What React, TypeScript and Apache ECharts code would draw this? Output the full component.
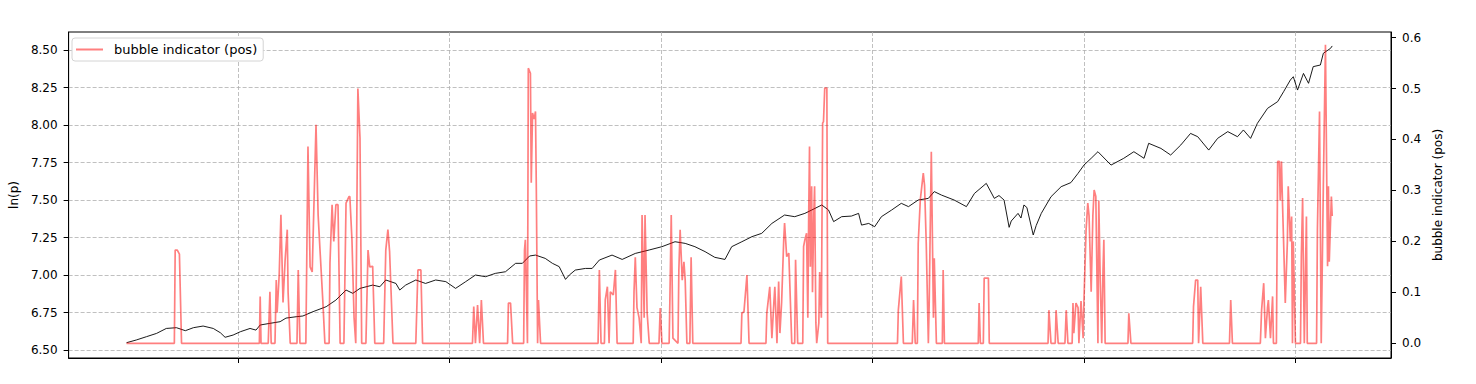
import React, { useEffect, useRef } from "react";
import * as echarts from "echarts";

// ln(price): [year, ln(p)]
const priceSeries: [number, number][] = [
  [1992.36, 6.549], [1992.59, 6.567], [1992.83, 6.589], [1993.07, 6.611], [1993.3, 6.644],
  [1993.54, 6.649], [1993.75, 6.629], [1993.94, 6.649], [1994.17, 6.66], [1994.41, 6.644],
  [1994.58, 6.615], [1994.69, 6.585], [1994.88, 6.6], [1995.05, 6.622], [1995.28, 6.644],
  [1995.42, 6.633], [1995.52, 6.667], [1995.75, 6.678], [1995.99, 6.689], [1996.13, 6.713],
  [1996.37, 6.722], [1996.53, 6.727], [1996.77, 6.756], [1997.08, 6.789], [1997.31, 6.833],
  [1997.55, 6.9], [1997.71, 6.878], [1997.88, 6.911], [1998.18, 6.933], [1998.35, 6.922],
  [1998.49, 6.967], [1998.73, 6.944], [1998.82, 6.9], [1998.96, 6.933], [1999.2, 6.967],
  [1999.43, 6.944], [1999.67, 6.967], [1999.91, 6.956], [2000.14, 6.911], [2000.38, 6.956],
  [2000.61, 7.0], [2000.85, 6.989], [2001.08, 7.011], [2001.32, 7.022], [2001.56, 7.078],
  [2001.72, 7.078], [2001.89, 7.127], [2002.03, 7.133], [2002.26, 7.111], [2002.43, 7.078],
  [2002.59, 7.056], [2002.74, 6.971], [2002.83, 7.0], [2002.97, 7.033], [2003.21, 7.044],
  [2003.37, 7.044], [2003.54, 7.1], [2003.84, 7.133], [2004.08, 7.104], [2004.39, 7.144],
  [2004.72, 7.167], [2005.02, 7.189], [2005.33, 7.222], [2005.57, 7.211], [2005.8, 7.189],
  [2006.04, 7.156], [2006.27, 7.118], [2006.51, 7.104], [2006.67, 7.189], [2006.91, 7.222],
  [2007.15, 7.256], [2007.38, 7.278], [2007.62, 7.344], [2007.92, 7.4], [2008.16, 7.389],
  [2008.4, 7.411], [2008.56, 7.433], [2008.8, 7.467], [2008.96, 7.433], [2009.08, 7.356],
  [2009.27, 7.389], [2009.5, 7.393], [2009.67, 7.411], [2009.74, 7.333], [2009.91, 7.344],
  [2010.05, 7.322], [2010.21, 7.389], [2010.45, 7.433], [2010.68, 7.478], [2010.85, 7.456],
  [2011.08, 7.5], [2011.32, 7.511], [2011.46, 7.556], [2011.63, 7.533], [2011.93, 7.5],
  [2012.22, 7.456], [2012.41, 7.544], [2012.69, 7.611], [2012.88, 7.511], [2012.99, 7.53],
  [2013.11, 7.5], [2013.23, 7.318], [2013.28, 7.36], [2013.44, 7.411], [2013.51, 7.38],
  [2013.58, 7.467], [2013.65, 7.45], [2013.8, 7.267], [2013.87, 7.33], [2013.99, 7.411],
  [2014.22, 7.522], [2014.46, 7.589], [2014.69, 7.616], [2014.86, 7.678], [2015.0, 7.733],
  [2015.17, 7.778], [2015.33, 7.822], [2015.64, 7.733], [2015.94, 7.778], [2016.18, 7.822],
  [2016.42, 7.778], [2016.53, 7.878], [2016.82, 7.844], [2017.05, 7.8], [2017.29, 7.867],
  [2017.52, 7.944], [2017.69, 7.922], [2017.95, 7.833], [2018.16, 7.911], [2018.4, 7.956],
  [2018.63, 7.922], [2018.77, 7.967], [2018.94, 7.911], [2019.1, 8.011], [2019.34, 8.111],
  [2019.58, 8.156], [2019.72, 8.222], [2019.88, 8.3], [2019.95, 8.322], [2020.05, 8.233],
  [2020.19, 8.344], [2020.31, 8.278], [2020.42, 8.389], [2020.59, 8.4], [2020.66, 8.478],
  [2020.83, 8.511], [2020.87, 8.527],
];

// bubble indicator (pos): [year, value]
const bubbleSeries: [number, number][] = [
  [1992.36, 0],
  [1993.49, 0], [1993.51, 0.183], [1993.56, 0.183], [1993.61, 0.175], [1993.66, 0],
  [1995.5, 0], [1995.52, 0.092], [1995.54, 0],
  [1995.71, 0], [1995.75, 0.101], [1995.78, 0],
  [1995.87, 0], [1995.9, 0.124], [1995.92, 0.06], [1995.97, 0.135], [1996.01, 0.252], [1996.06, 0.08],
  [1996.11, 0.164], [1996.16, 0.223], [1996.18, 0.1], [1996.23, 0],
  [1996.39, 0], [1996.42, 0.144], [1996.46, 0],
  [1996.6, 0], [1996.65, 0.386], [1996.7, 0.15], [1996.75, 0.14], [1996.84, 0.429], [1996.89, 0.252],
  [1996.93, 0.19], [1997.0, 0.085], [1997.05, 0],
  [1997.15, 0], [1997.17, 0.157], [1997.22, 0.272], [1997.26, 0.2], [1997.31, 0.272], [1997.36, 0.272], [1997.41, 0],
  [1997.5, 0], [1997.55, 0.275], [1997.62, 0.288], [1997.64, 0.288], [1997.69, 0.203], [1997.74, 0.05], [1997.78, 0],
  [1997.83, 0.5], [1997.88, 0.403], [1997.92, 0],
  [1998.02, 0], [1998.07, 0.183], [1998.11, 0.15], [1998.18, 0.151], [1998.23, 0],
  [1998.44, 0], [1998.49, 0.183], [1998.54, 0.223], [1998.58, 0.18], [1998.66, 0],
  [1999.2, 0], [1999.25, 0.144], [1999.32, 0.144], [1999.36, 0],
  [2000.54, 0], [2000.57, 0.072], [2000.61, 0], [2000.66, 0.075], [2000.71, 0], [2000.75, 0.085], [2000.8, 0],
  [2001.37, 0], [2001.39, 0.079], [2001.44, 0.079], [2001.49, 0],
  [2001.75, 0], [2001.77, 0.183], [2001.79, 0.203], [2001.84, 0], [2001.86, 0.54], [2001.91, 0.53],
  [2001.93, 0.315], [2001.96, 0.452], [2002.0, 0.44], [2002.03, 0.455], [2002.05, 0.3], [2002.08, 0],
  [2002.1, 0.085], [2002.15, 0],
  [2003.51, 0], [2003.54, 0.144], [2003.58, 0],
  [2003.66, 0], [2003.68, 0.085], [2003.73, 0.111], [2003.77, 0], [2003.8, 0.101], [2003.87, 0.095],
  [2003.92, 0.144], [2003.96, 0],
  [2004.34, 0], [2004.36, 0.101], [2004.39, 0.169], [2004.43, 0.07], [2004.48, 0.05], [2004.53, 0],
  [2004.55, 0.252], [2004.6, 0.05], [2004.62, 0.252], [2004.67, 0.06], [2004.72, 0],
  [2004.95, 0], [2004.98, 0.069], [2005.02, 0],
  [2005.19, 0], [2005.21, 0.095], [2005.24, 0.252], [2005.28, 0.01], [2005.4, 0], [2005.42, 0.144],
  [2005.45, 0.223], [2005.5, 0.124], [2005.54, 0.16], [2005.57, 0.124], [2005.61, 0],
  [2005.68, 0], [2005.71, 0.169], [2005.75, 0],
  [2006.89, 0], [2006.91, 0.059], [2006.96, 0.062], [2007.03, 0.134], [2007.08, 0],
  [2007.48, 0], [2007.5, 0.059], [2007.57, 0.111], [2007.62, 0.01], [2007.67, 0.085], [2007.69, 0.111],
  [2007.74, 0], [2007.78, 0.121], [2007.81, 0.02], [2007.85, 0.08], [2007.9, 0.203], [2007.92, 0.236],
  [2007.97, 0.17], [2008.02, 0.177], [2008.09, 0],
  [2008.16, 0], [2008.18, 0.164], [2008.23, 0],
  [2008.35, 0], [2008.37, 0.19], [2008.4, 0.203], [2008.44, 0.216], [2008.47, 0.05], [2008.49, 0.25],
  [2008.51, 0.386], [2008.53, 0.15], [2008.56, 0.308], [2008.58, 0.1], [2008.61, 0.25], [2008.63, 0.308],
  [2008.66, 0.04], [2008.68, 0], [2008.73, 0.04], [2008.75, 0.14], [2008.79, 0.05], [2008.82, 0.432],
  [2008.84, 0.435], [2008.87, 0.501], [2008.92, 0.501], [2008.94, 0],
  [2010.59, 0], [2010.61, 0.065], [2010.68, 0.131], [2010.73, 0],
  [2010.94, 0], [2010.97, 0.085], [2011.01, 0],
  [2011.06, 0], [2011.08, 0.196], [2011.13, 0.282], [2011.2, 0.334], [2011.23, 0.31], [2011.27, 0.196],
  [2011.32, 0], [2011.34, 0.08], [2011.39, 0.376], [2011.44, 0.05], [2011.46, 0.167], [2011.51, 0],
  [2011.65, 0], [2011.67, 0.144], [2011.7, 0],
  [2012.5, 0], [2012.52, 0.079], [2012.55, 0],
  [2012.62, 0], [2012.64, 0.128], [2012.74, 0.128], [2012.76, 0],
  [2014.15, 0], [2014.17, 0.065], [2014.22, 0],
  [2014.32, 0], [2014.34, 0.065], [2014.39, 0],
  [2014.55, 0], [2014.58, 0.065], [2014.62, 0],
  [2014.72, 0], [2014.74, 0.079], [2014.76, 0.02], [2014.81, 0.079], [2014.86, 0.07], [2014.88, 0],
  [2014.93, 0.083], [2014.98, 0.01], [2015.0, 0.085], [2015.05, 0.223], [2015.09, 0.275], [2015.12, 0.25],
  [2015.17, 0.101], [2015.21, 0.25], [2015.24, 0.301], [2015.28, 0.288], [2015.33, 0], [2015.35, 0.28],
  [2015.38, 0.144], [2015.42, 0], [2015.45, 0.144], [2015.47, 0.203], [2015.5, 0],
  [2016.04, 0], [2016.06, 0.059], [2016.11, 0],
  [2017.57, 0], [2017.59, 0.072], [2017.64, 0.124], [2017.69, 0.124], [2017.71, 0], [2017.76, 0.111], [2017.81, 0],
  [2018.44, 0], [2018.47, 0.085], [2018.51, 0],
  [2019.17, 0], [2019.2, 0.065], [2019.25, 0.118], [2019.29, 0.01], [2019.34, 0.07], [2019.36, 0.085],
  [2019.41, 0.01], [2019.46, 0.092], [2019.48, 0],
  [2019.55, 0], [2019.58, 0.357], [2019.62, 0.357], [2019.64, 0.28], [2019.67, 0.357], [2019.69, 0.288],
  [2019.72, 0.2], [2019.76, 0.079], [2019.81, 0.2], [2019.83, 0.308], [2019.88, 0.2], [2019.91, 0.249],
  [2019.93, 0], [2019.95, 0.2], [2020.0, 0], [2020.12, 0], [2020.14, 0.17], [2020.17, 0.285], [2020.21, 0],
  [2020.26, 0.249], [2020.28, 0], [2020.5, 0], [2020.52, 0.223], [2020.57, 0.455], [2020.61, 0],
  [2020.66, 0.308], [2020.71, 0.586], [2020.76, 0.151], [2020.78, 0.308], [2020.8, 0.16], [2020.85, 0.288],
  [2020.87, 0.25],
];

const yearTicks = [1995, 2000, 2005, 2010, 2015, 2020];
const lnpTicks = [6.5, 6.75, 7.0, 7.25, 7.5, 7.75, 8.0, 8.25, 8.5];
const bubbleTicks = [0, 0.1, 0.2, 0.3, 0.4, 0.5, 0.6];

const FONT = "DejaVu Sans";
const gridDash = { color: "#b0b0b0", width: 0.8, type: [4, 2] as number[] };

export default function App() {
  const ref = useRef<HTMLDivElement>(null);
  useEffect(() => {
    if (!ref.current) return;
    const chart = echarts.init(ref.current, undefined, { renderer: "svg" });
    chart.setOption({
      animation: false,
      backgroundColor: "#ffffff",
      textStyle: { fontFamily: FONT },
      grid: {
        left: 65, right: 85, top: 32, bottom: 26,
        show: true, borderColor: "#000", borderWidth: 1, backgroundColor: "transparent",
      },
      legend: {
        show: true,
        left: 72, top: 38,
        padding: [5, 6, 5, 4],
        backgroundColor: "#fff",
        borderColor: "#d4d4d4", borderWidth: 1, borderRadius: 3,
        itemWidth: 27, itemHeight: 2,
        icon: "rect",
        data: ["bubble indicator (pos)"],
        textStyle: { fontFamily: FONT, fontSize: 13, color: "#000", padding: [0, 0, 0, 6] },
      },
      xAxis: {
        type: "value",
        min: 1990.99, max: 2022.26,
        axisLine: { show: true, onZero: false, lineStyle: { color: "#000", width: 1 } },
        axisTick: { show: true, length: 5, customValues: yearTicks, lineStyle: { color: "#000" } },
        axisLabel: { show: false },
        splitLine: { show: true, lineStyle: gridDash },
      },
      yAxis: [
        {
          type: "value",
          position: "left",
          min: 6.447, max: 8.62,
          name: "ln(p)",
          nameLocation: "middle",
          nameGap: 46,
          nameTextStyle: { fontFamily: FONT, fontSize: 12, color: "#000" },
          axisLine: { show: true, lineStyle: { color: "#000", width: 1 } },
          axisTick: { show: true, length: 5, customValues: lnpTicks, lineStyle: { color: "#000" } },
          axisLabel: {
            customValues: lnpTicks, margin: 11, color: "#000", fontSize: 12, fontFamily: FONT,
            formatter: (v: number) => v.toFixed(2),
          },
          splitLine: { show: true, lineStyle: gridDash },
        },
        {
          type: "value",
          position: "right",
          min: -0.0289, max: 0.611,
          name: "bubble indicator (pos)",
          nameLocation: "middle",
          nameGap: 33,
          nameTextStyle: { fontFamily: FONT, fontSize: 12, color: "#000" },
          axisLine: { show: true, lineStyle: { color: "#000", width: 1 } },
          axisTick: { show: true, length: 5, customValues: bubbleTicks, lineStyle: { color: "#000" } },
          axisLabel: {
            customValues: bubbleTicks, margin: 11, color: "#000", fontSize: 12, fontFamily: FONT,
            formatter: (v: number) => v.toFixed(1),
          },
          splitLine: { show: false },
        },
      ],
      series: [
        {
          name: "ln(p)",
          type: "line",
          yAxisIndex: 0,
          data: priceSeries,
          showSymbol: false,
          symbol: "none",
          lineStyle: { color: "#000", width: 0.9 },
          itemStyle: { color: "#000" },
          z: 2,
        },
        {
          name: "bubble indicator (pos)",
          type: "line",
          yAxisIndex: 1,
          data: bubbleSeries,
          showSymbol: false,
          symbol: "none",
          color: "rgba(255,0,0,0.5)",
          lineStyle: { color: "rgba(255,0,0,0.5)", width: 1.7 },
          itemStyle: { color: "rgba(255,0,0,0.5)" },
          z: 3,
        },
      ],
    });
    return () => chart.dispose();
  }, []);
  return (
    <div
      ref={ref}
      style={{ position: "absolute", left: 0, top: 0, width: 1476, height: 384 }}
    />
  );
}
